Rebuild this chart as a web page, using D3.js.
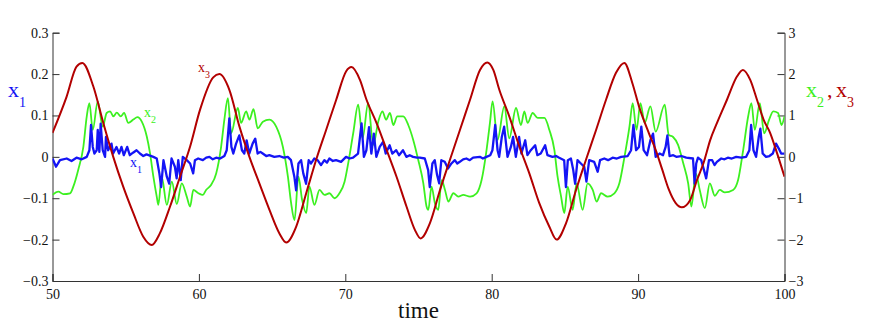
<!DOCTYPE html>
<html lang="en">
<head>
    <meta charset="UTF-8">
    <title>x1, x2, x3 vs time</title>
    <style>
        body { margin: 0; background: #fff; }
        svg { display: block; }
        svg text { font-family: "Liberation Serif", "DejaVu Serif", serif !important; }
    </style>
</head>
<body>
    <script src="https://d3js.org/d3.v7.min.js"></script>
    <script>
        // Tick values and labels
        const timeTicks = [50, 60, 70, 80, 90, 100];
        const timeTickLabels = ["50", "60", "70", "80", "90", "100"];
        const leftTicks = [-0.3, -0.2, -0.1, 0, 0.1, 0.2, 0.3];
        const leftTickLabels = ["\u22120.3", "\u22120.2", "\u22120.1", "0", "0.1", "0.2", "0.3"];
        const rightTicks = [-3, -2, -1, 0, 1, 2, 3];
        const rightTickLabels = ["\u22123", "\u22122", "\u22121", "0", "1", "2", "3"];

        // x1 (left axis) : [time, value]
        const x1Data = [
            [50.00,-0.004],[50.24,-0.024],[50.51,-0.008],[50.97,-0.004],[51.30,-0.010],[51.64,-0.002],[52.00,-0.006],
            [52.34,0.000],[52.52,0.016],[52.63,0.077],[52.75,0.024],[52.86,0.008],[53.02,0.016],[53.09,0.065],
            [53.20,0.012],[53.29,0.080],[53.43,0.016],[53.59,0.000],[53.65,0.048],[53.80,0.016],[54.03,0.032],
            [54.14,0.008],[54.37,0.024],[54.55,0.008],[54.71,0.024],[54.87,0.004],[55.10,0.024],[55.28,0.004],
            [55.50,0.010],[55.74,0.016],[55.97,0.008],[56.20,0.002],[56.42,0.006],[56.89,0.000],[57.12,-0.004],
            [57.30,-0.040],[57.42,-0.073],[57.58,-0.008],[57.81,-0.048],[57.97,-0.065],[58.13,-0.004],[58.36,-0.024],
            [58.48,-0.052],[58.59,-0.008],[58.76,-0.056],[58.90,0.000],[59.17,-0.008],[59.40,-0.016],[59.61,-0.040],
            [59.73,-0.008],[59.95,-0.004],[60.27,-0.008],[60.50,-0.002],[60.72,0.000],[60.95,-0.006],[61.18,-0.002],
            [61.45,-0.004],[61.74,0.002],[61.90,0.016],[62.08,0.093],[62.22,0.024],[62.35,0.008],[62.54,0.032],
            [62.76,0.052],[62.94,0.016],[63.10,0.008],[63.26,0.040],[63.44,0.008],[63.67,0.032],[63.85,0.044],
            [64.01,0.008],[64.20,0.012],[64.36,0.008],[64.60,0.002],[64.81,0.004],[65.15,0.000],[65.49,0.002],
            [65.80,-0.002],[66.07,0.000],[66.29,-0.008],[66.52,-0.048],[66.64,-0.081],[66.80,-0.016],[66.98,-0.008],
            [67.13,-0.040],[67.32,-0.065],[67.50,-0.008],[67.66,-0.016],[67.88,-0.004],[68.11,-0.008],[68.34,-0.020],
            [68.57,-0.008],[68.75,-0.014],[68.91,-0.004],[69.15,-0.010],[69.37,-0.008],[69.71,-0.012],[70.05,0.000],
            [70.30,-0.004],[70.53,-0.002],[70.87,0.008],[71.11,0.081],[71.27,0.000],[71.44,0.016],[71.62,0.072],
            [71.78,0.008],[71.95,0.056],[72.12,0.000],[72.35,0.024],[72.58,0.036],[72.76,0.008],[73.03,0.028],
            [73.21,0.008],[73.48,0.016],[73.67,0.004],[73.94,0.016],[74.17,0.000],[74.40,0.004],[74.63,0.000],
            [74.90,-0.002],[75.09,-0.002],[75.43,-0.004],[75.66,-0.032],[75.77,-0.073],[75.95,-0.016],[76.11,-0.008],
            [76.27,-0.044],[76.41,-0.064],[76.56,-0.008],[76.79,-0.012],[77.02,-0.028],[77.25,-0.016],[77.48,-0.008],
            [77.65,-0.016],[77.82,-0.012],[78.05,-0.006],[78.27,-0.004],[78.50,-0.008],[78.73,-0.002],[79.19,0.000],
            [79.40,-0.004],[79.64,0.000],[79.90,0.004],[80.05,0.016],[80.24,0.077],[80.40,0.016],[80.51,0.000],
            [80.69,0.048],[80.85,0.073],[81.08,0.000],[81.31,0.024],[81.46,0.048],[81.65,0.000],[81.87,0.048],
            [82.03,0.008],[82.29,0.040],[82.44,0.004],[82.67,0.016],[82.97,0.028],[83.12,0.004],[83.35,0.008],
            [83.65,0.028],[83.81,0.004],[84.15,0.000],[84.40,0.002],[84.61,-0.002],[84.95,-0.008],[85.07,-0.073],
            [85.20,-0.008],[85.41,-0.004],[85.57,-0.032],[85.70,-0.065],[85.86,-0.008],[86.09,-0.016],[86.32,-0.024],
            [86.47,-0.060],[86.66,-0.008],[87.00,-0.012],[87.24,-0.036],[87.40,-0.008],[87.69,-0.004],[87.95,-0.008],
            [88.26,-0.002],[88.55,-0.004],[88.84,0.000],[89.29,0.002],[89.52,0.016],[89.68,0.077],[89.86,0.016],
            [90.06,0.024],[90.22,0.073],[90.38,0.016],[90.61,0.004],[90.84,0.040],[91.02,0.056],[91.20,0.000],
            [91.47,0.008],[91.70,0.004],[91.88,0.024],[92.00,0.052],[92.15,0.002],[92.40,0.004],[92.61,0.000],
            [92.95,0.002],[93.29,-0.002],[93.75,-0.004],[93.86,-0.065],[93.97,-0.016],[94.09,-0.002],[94.31,-0.008],
            [94.50,-0.032],[94.65,-0.052],[94.84,-0.008],[95.06,-0.008],[95.22,-0.020],[95.38,-0.012],[95.68,-0.004],
            [95.90,-0.006],[96.13,-0.002],[96.40,-0.004],[96.70,0.000],[97.05,-0.002],[97.38,0.000],[97.60,0.016],
            [97.72,0.077],[97.88,0.016],[98.06,0.000],[98.24,0.048],[98.35,0.068],[98.51,0.008],[98.74,0.000],
            [98.97,0.002],[99.20,0.008],[99.42,0.032],[99.61,0.020],[99.77,0.008],[100.00,0.008]
        ];

        // x2 (right axis)
        const x2Data = [
            [50.00,-0.92],[50.40,-0.84],[50.74,-0.90],[51.20,-0.88],[51.42,-0.72],[51.76,-0.31],[52.11,0.25],
            [52.34,0.98],[52.52,1.30],[52.75,0.65],[53.09,1.34],[53.43,0.73],[53.70,1.06],[53.93,1.10],[54.16,0.98],
            [54.39,1.07],[54.66,0.98],[54.89,1.06],[55.18,0.82],[55.52,0.90],[55.80,0.96],[56.10,0.85],[56.44,0.49],
            [56.66,0.09],[56.89,-0.48],[57.12,-0.96],[57.23,-1.16],[57.46,-0.48],[57.81,-1.16],[58.15,-0.60],
            [58.49,-1.14],[58.83,-0.64],[59.17,-0.96],[59.40,-1.20],[59.62,-0.80],[59.97,-0.88],[60.27,-0.92],
            [60.49,-0.80],[60.83,-0.68],[61.18,-0.40],[61.52,0.25],[61.74,0.90],[61.98,1.42],[62.20,0.57],
            [62.66,1.18],[62.88,0.82],[63.23,1.10],[63.45,0.90],[63.73,1.15],[64.02,0.69],[64.37,0.85],[64.82,0.90],
            [65.28,0.73],[65.73,0.25],[66.08,-0.48],[66.30,-1.12],[66.53,-1.53],[66.80,-0.48],[67.05,-1.04],
            [67.33,-1.36],[67.55,-0.72],[67.89,-1.16],[68.24,-0.80],[68.58,-0.92],[68.92,-0.88],[69.26,-1.00],
            [69.60,-0.88],[69.95,-0.60],[70.20,-0.15],[70.54,0.57],[70.88,1.26],[71.18,0.45],[71.56,1.30],
            [71.91,0.29],[72.25,0.85],[72.54,1.10],[72.78,0.90],[73.05,1.06],[73.28,0.77],[73.55,0.98],[73.96,0.98],
            [74.30,0.77],[74.64,0.41],[74.98,-0.07],[75.33,-0.64],[75.55,-1.20],[75.67,-1.28],[75.89,-0.72],
            [76.12,-1.12],[76.35,-1.28],[76.58,-0.56],[76.81,-0.80],[77.04,-1.08],[77.38,-0.88],[77.72,-0.96],
            [78.06,-0.92],[78.52,-0.96],[78.97,-0.88],[79.31,-0.56],[79.65,0.17],[79.88,0.82],[80.06,1.34],
            [80.40,0.41],[80.86,1.22],[81.20,0.45],[81.66,1.18],[82.00,0.77],[82.23,1.10],[82.45,0.82],[82.80,1.06],
            [83.14,0.94],[83.60,0.94],[83.94,0.65],[84.28,0.17],[84.50,-0.48],[84.74,-0.96],[84.96,-1.36],
            [85.19,-0.72],[85.53,-1.28],[85.80,-0.64],[86.21,-1.28],[86.55,-0.64],[86.90,-0.80],[87.17,-1.08],
            [87.47,-0.88],[87.92,-0.96],[88.38,-0.88],[88.72,-0.64],[89.07,0.00],[89.41,0.73],[89.63,1.30],
            [89.89,0.65],[90.16,1.30],[90.45,0.82],[90.84,1.22],[91.20,0.61],[91.82,1.26],[92.09,0.53],[92.39,0.48],
            [92.73,0.29],[93.08,-0.15],[93.42,-0.64],[93.64,-1.20],[93.94,-0.40],[94.21,-0.80],[94.56,-1.24],
            [94.90,-0.64],[95.24,-0.94],[95.58,-0.80],[95.92,-0.86],[96.49,-0.80],[96.83,-0.56],[97.18,0.17],
            [97.52,0.98],[97.74,1.30],[97.97,0.65],[98.31,1.30],[98.61,0.57],[98.95,0.90],[99.23,1.10],[99.56,1.06],
            [99.80,0.77],[100.00,0.98]
        ];

        // x3 (right axis)
        const x3Data = [
            [50.00,0.58],[50.96,1.45],[51.64,2.18],[52.04,2.27],[52.79,1.70],[53.47,0.82],[54.15,0.00],[54.83,-0.72],
            [55.52,-1.36],[56.20,-1.93],[56.78,-2.13],[57.33,-1.85],[58.03,-1.20],[58.71,-0.48],[59.40,0.25],
            [60.08,1.14],[60.98,1.92],[61.40,2.00],[62.08,1.62],[62.77,0.73],[63.45,0.00],[64.13,-0.64],
            [64.82,-1.28],[65.50,-1.85],[65.96,-2.07],[66.64,-1.69],[67.33,-0.88],[68.01,-0.07],[68.69,0.65],
            [69.38,1.38],[70.06,2.07],[70.42,2.17],[71.00,1.86],[71.45,1.38],[72.13,0.82],[72.82,0.17],[73.50,-0.48],
            [74.18,-1.20],[74.76,-1.77],[75.14,-1.97],[75.78,-1.60],[76.47,-0.80],[77.15,-0.07],[77.83,0.65],
            [78.52,1.38],[79.20,2.10],[79.70,2.28],[80.11,2.10],[80.52,1.62],[81.20,0.98],[81.89,0.25],[82.57,-0.40],
            [83.25,-1.12],[83.94,-1.69],[84.43,-2.00],[85.08,-1.60],[85.76,-0.80],[86.44,-0.07],[87.13,0.65],
            [87.81,1.38],[88.49,2.03],[89.06,2.27],[89.61,1.78],[90.06,1.22],[90.74,0.57],[91.20,0.17],[91.65,-0.31],
            [92.11,-0.80],[92.57,-1.12],[92.98,-1.22],[93.56,-1.04],[94.02,-0.56],[94.47,-0.15],[94.93,0.41],
            [95.39,0.82],[96.07,1.38],[96.75,1.94],[97.16,2.10],[97.66,1.86],[98.12,1.38],[98.57,0.90],[99.03,0.57],
            [99.49,0.09],[100.00,-0.48]
        ];

        const width = 871, height = 327;
        const plot = {left: 52.5, right: 784.5, top: 32.7, bottom: 281};
        const colors = {x1: "#1414f5", x2: "#3cf020", x3: "#b20000"};
        const serif = '"Liberation Serif", "DejaVu Serif", serif';

        const x = d3.scaleLinear().domain([50, 100]).range([plot.left, plot.right]);
        const yLeft = d3.scaleLinear().domain([-0.3, 0.3]).range([plot.bottom, plot.top]);
        const yRight = d3.scaleLinear().domain([-3, 3]).range([plot.bottom, plot.top]);

        const svg = d3.select("body").append("svg")
            .attr("width", width)
            .attr("height", height)
            .attr("font-family", serif);

        svg.append("rect").attr("width", width).attr("height", height).attr("fill", "#fff");

        svg.append("clipPath").attr("id", "clip")
            .append("rect")
            .attr("x", plot.left).attr("y", plot.top - 5)
            .attr("width", plot.right - plot.left)
            .attr("height", plot.bottom - plot.top + 10);

        // Axes, ticks point inward
        const styleAxis = function(g) {
            g.attr("font-family", serif).attr("font-size", 14);
            g.selectAll("path, line").attr("stroke", "#333").attr("stroke-width", 1);
            g.selectAll("text").attr("fill", "#111");
        };

        svg.append("g")
            .attr("transform", "translate(0," + plot.bottom + ")")
            .call(d3.axisBottom(x).tickValues(timeTicks)
                .tickFormat((d, i) => timeTickLabels[i])
                .tickSize(-7).tickPadding(8))
            .call(styleAxis);

        svg.append("g")
            .attr("transform", "translate(" + plot.left + ",0)")
            .call(d3.axisLeft(yLeft).tickValues(leftTicks)
                .tickFormat((d, i) => leftTickLabels[i])
                .tickSize(-7).tickPadding(4))
            .call(styleAxis);

        svg.append("g")
            .attr("transform", "translate(" + plot.right + ",0)")
            .call(d3.axisRight(yRight).tickValues(rightTicks)
                .tickFormat((d, i) => rightTickLabels[i])
                .tickSize(-7).tickPadding(4))
            .call(styleAxis);

        // Lines
        const lineRight = d3.line()
            .x(d => x(d[0])).y(d => yRight(d[1]))
            .curve(d3.curveMonotoneX);
        const lineLeft = d3.line()
            .x(d => x(d[0])).y(d => yLeft(d[1]));

        const lines = svg.append("g").attr("clip-path", "url(#clip)").attr("fill", "none");

        lines.append("path").datum(x2Data)
            .attr("d", lineRight)
            .attr("stroke", colors.x2).attr("stroke-width", 1.8);

        lines.append("path").datum(x1Data)
            .attr("d", lineLeft)
            .attr("stroke", colors.x1).attr("stroke-width", 2.3)
            .attr("stroke-linejoin", "round");

        lines.append("path").datum(x3Data)
            .attr("d", lineRight)
            .attr("stroke", colors.x3).attr("stroke-width", 2);

        // Axis titles
        svg.append("text")
            .attr("x", (plot.left + plot.right) / 2).attr("y", 318)
            .attr("text-anchor", "middle")
            .attr("font-size", 23)
            .attr("fill", "#111")
            .text("time");

        const leftTitle = svg.append("text")
            .attr("x", 8).attr("y", 97)
            .attr("fill", colors.x1)
            .attr("font-size", 22);
        leftTitle.append("tspan").text("x");
        leftTitle.append("tspan").attr("dy", 10).attr("font-size", 14).text("1");

        const rightTitle = svg.append("text")
            .attr("y", 97)
            .attr("font-size", 22);
        rightTitle.append("tspan").attr("x", 806).attr("fill", colors.x2).text("x");
        rightTitle.append("tspan").attr("x", 817).attr("dy", 10).attr("fill", colors.x2)
            .attr("font-size", 14).text("2");
        rightTitle.append("tspan").attr("x", 827).attr("dy", -10).attr("fill", colors.x3).text(",");
        rightTitle.append("tspan").attr("x", 836).attr("fill", colors.x3).text("x");
        rightTitle.append("tspan").attr("x", 847).attr("dy", 10).attr("fill", colors.x3)
            .attr("font-size", 14).text("3");

        // Inline series labels
        const inlineNames = ["3", "2", "1"];
        const inlineColors = [colors.x3, colors.x2, colors.x1];
        const inlinePos = [[198, 72], [144, 117], [130, 167]];
        inlineNames.forEach(function(sub, i) {
            const t = svg.append("text")
                .attr("x", inlinePos[i][0]).attr("y", inlinePos[i][1])
                .attr("fill", inlineColors[i])
                .attr("font-size", 14);
            t.append("tspan").text("x");
            t.append("tspan").attr("dy", 6).attr("font-size", 10).text(sub);
        });
    </script>
</body>
</html>
